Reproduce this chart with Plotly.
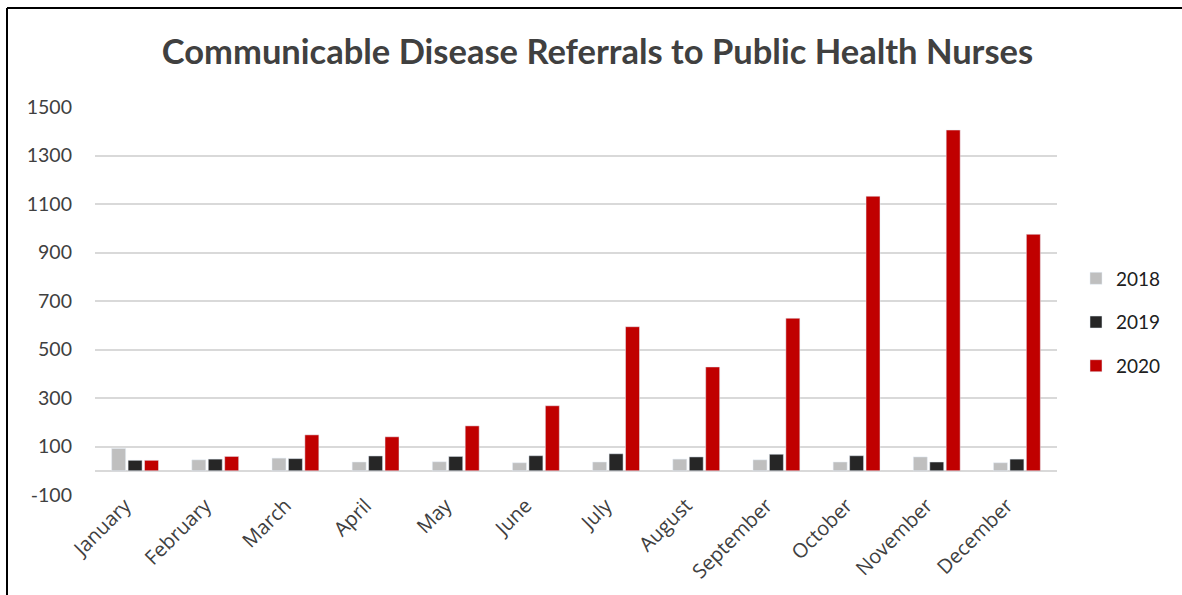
import plotly.graph_objects as go

months = ["January", "February", "March", "April", "May", "June", "July",
          "August", "September", "October", "November", "December"]
y2018 = [92, 45, 52, 36, 37, 33, 36, 48, 45, 36, 57, 33]
y2019 = [43, 48, 50, 61, 59, 62, 70, 57, 68, 62, 36, 48]
y2020 = [43, 59, 148, 140, 185, 268, 594, 428, 629, 1132, 1405, 975]
series_names = ["2018", "2019", "2020"]
series_colors = ["#bfbfbf", "#262626", "#c00000"]
y_ticks = [-100, 100, 300, 500, 700, 900, 1100, 1300, 1500]
y_tick_text = ["-100", "100", "300", "500", "700", "900", "1100", "1300", "1500"]

W, H = 1182, 595
L, R, T, B = 95, W - 1057, 107, H - 495

fig = go.Figure()
for name, vals, col in zip(series_names, [y2018, y2019, y2020], series_colors):
    fig.add_trace(go.Bar(x=months, y=vals, name=name, marker_color=col,
                         legendgroup=name))

pw = W - L - R
ph = H - T - B
fx = lambda px: (px - L) / pw
fy = lambda py: 1 - (py - T) / ph

fig.update_layout(
    width=W, height=H,
    margin=dict(l=L, r=R, t=T, b=B, autoexpand=False),
    paper_bgcolor="white", plot_bgcolor="white",
    barmode="group", bargap=0.385, bargroupgap=0.15,
    title=dict(text="<b>Communicable Disease Referrals to Public Health Nurses</b>",
               x=0.5055, xanchor="center", y=1 - 52 / H, yanchor="middle",
               font=dict(family="Lato", size=34.5, color="#404040")),
    font=dict(family="Lato", color="#404040"),
    xaxis=dict(tickangle=-45, tickfont=dict(family="Open Sans", size=20, color="#404040"),
               showgrid=False, showline=False, ticks="",
               ticklabelstandoff=-6, ticklabelshift=-10),
    yaxis=dict(range=[-100, 1500], tickvals=y_ticks, ticktext=y_tick_text, showgrid=True,
               gridcolor="#d9d9d9", gridwidth=1.5, zeroline=True,
               zerolinecolor="#d9d9d9", zerolinewidth=2,
               tickfont=dict(family="Lato", size=19.5, color="#404040"),
               ticklabelstandoff=22),
    legend=dict(x=fx(1076), xanchor="left", y=fy(275) + 0.04, yanchor="top",
                font=dict(family="Lato", size=19, color="#202020"),
                tracegroupgap=16, traceorder="grouped", itemwidth=30,
                bgcolor="rgba(0,0,0,0)"),
    shapes=[
        dict(type="line", xref="paper", yref="paper", x0=fx(7), x1=fx(7),
             y0=fy(8), y1=fy(H + 5), line=dict(color="black", width=2)),
        dict(type="line", xref="paper", yref="paper", x0=fx(7), x1=fx(W + 5),
             y0=fy(8), y1=fy(8), line=dict(color="black", width=2)),
    ],
)

fig.write_html("out.html")
